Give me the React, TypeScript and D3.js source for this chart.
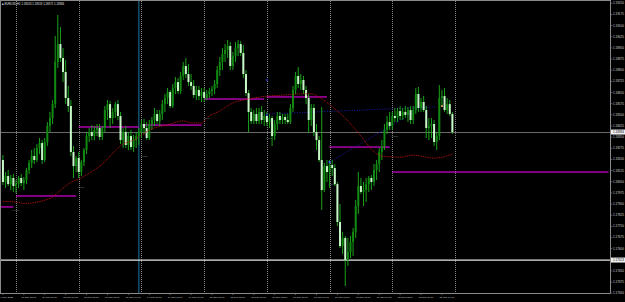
import React from 'react';
import * as d3 from 'd3';

// ---------- DATA (EURUSD H1, 9-18 Sep 2020), [open, high, low, close] ----------
const sep09 = [
  [1.18196, 1.18229, 1.18028, 1.18048],
  [1.18048, 1.18115, 1.18008, 1.18088],
  [1.18088, 1.18129, 1.18021, 1.18034],
  [1.18034, 1.18095, 1.17994, 1.18075],
  [1.18075, 1.18102, 1.17981, 1.18021],
];
const sep10 = [
  [1.18021, 1.18061, 1.17974, 1.18034],
  [1.18034, 1.18088, 1.18008, 1.18075],
  [1.18075, 1.18102, 1.18021, 1.18041],
  [1.18041, 1.18082, 1.17994, 1.18061],
  [1.18061, 1.18142, 1.18034, 1.18129],
  [1.18129, 1.18196, 1.18102, 1.18176],
  [1.18176, 1.18263, 1.18142, 1.18223],
  [1.18223, 1.18277, 1.18169, 1.18196],
  [1.18196, 1.18303, 1.18182, 1.18277],
  [1.18277, 1.18344, 1.18236, 1.18310],
  [1.18310, 1.18330, 1.18169, 1.18196],
  [1.18196, 1.18344, 1.18182, 1.18317],
  [1.18317, 1.18451, 1.18290, 1.18425],
  [1.18425, 1.18519, 1.18384, 1.18478],
  [1.18478, 1.18599, 1.18438, 1.18572],
  [1.18572, 1.19030, 1.18546, 1.18855],
  [1.18855, 1.19171, 1.18815, 1.18976],
  [1.18976, 1.19090, 1.18855, 1.18882],
  [1.18882, 1.18949, 1.18720, 1.18788],
  [1.18788, 1.18868, 1.18572, 1.18613],
  [1.18613, 1.18694, 1.18519, 1.18559],
  [1.18559, 1.18599, 1.18223, 1.18250],
  [1.18250, 1.18290, 1.18075, 1.18155],
  [1.18155, 1.18223, 1.18115, 1.18209],
];
const sep11 = [
  [1.18209, 1.18250, 1.18075, 1.18115],
  [1.18115, 1.18196, 1.18088, 1.18182],
  [1.18182, 1.18277, 1.18155, 1.18263],
  [1.18263, 1.18384, 1.18236, 1.18357],
  [1.18357, 1.18411, 1.18317, 1.18384],
  [1.18384, 1.18431, 1.18330, 1.18357],
  [1.18357, 1.18425, 1.18330, 1.18398],
  [1.18398, 1.18438, 1.18357, 1.18411],
  [1.18411, 1.18438, 1.18330, 1.18351],
  [1.18351, 1.18425, 1.18330, 1.18411],
  [1.18411, 1.18559, 1.18384, 1.18532],
  [1.18532, 1.18599, 1.18465, 1.18572],
  [1.18572, 1.18593, 1.18411, 1.18478],
  [1.18478, 1.18546, 1.18438, 1.18519],
  [1.18519, 1.18586, 1.18478, 1.18572],
  [1.18572, 1.18599, 1.18465, 1.18492],
  [1.18492, 1.18519, 1.18303, 1.18330],
  [1.18330, 1.18411, 1.18277, 1.18384],
  [1.18384, 1.18425, 1.18277, 1.18297],
  [1.18297, 1.18384, 1.18263, 1.18357],
  [1.18357, 1.18398, 1.18263, 1.18283],
  [1.18283, 1.18364, 1.18250, 1.18330],
  [1.18330, 1.18384, 1.18277, 1.18357],
  [1.18357, 1.18411, 1.18297, 1.18384],
];
const sep14 = [
  [1.18384, 1.18465, 1.18344, 1.18438],
  [1.18438, 1.18472, 1.18371, 1.18411],
  [1.18411, 1.18451, 1.18330, 1.18344],
  [1.18344, 1.18465, 1.18330, 1.18438],
  [1.18438, 1.18485, 1.18398, 1.18465],
  [1.18465, 1.18546, 1.18425, 1.18505],
  [1.18505, 1.18532, 1.18438, 1.18458],
  [1.18458, 1.18532, 1.18425, 1.18505],
  [1.18505, 1.18599, 1.18465, 1.18572],
  [1.18572, 1.18640, 1.18519, 1.18613],
  [1.18613, 1.18680, 1.18572, 1.18653],
  [1.18653, 1.18667, 1.18546, 1.18559],
  [1.18559, 1.18707, 1.18546, 1.18680],
  [1.18680, 1.18754, 1.18640, 1.18720],
  [1.18720, 1.18747, 1.18640, 1.18660],
  [1.18660, 1.18788, 1.18640, 1.18761],
  [1.18761, 1.18855, 1.18734, 1.18828],
  [1.18828, 1.18882, 1.18747, 1.18774],
  [1.18774, 1.18842, 1.18694, 1.18720],
  [1.18720, 1.18774, 1.18667, 1.18694],
  [1.18694, 1.18734, 1.18613, 1.18633],
  [1.18633, 1.18694, 1.18599, 1.18667],
  [1.18667, 1.18694, 1.18599, 1.18626],
  [1.18626, 1.18680, 1.18586, 1.18653],
];
const sep15 = [
  [1.18653, 1.18680, 1.18586, 1.18613],
  [1.18613, 1.18667, 1.18599, 1.18640],
  [1.18640, 1.18680, 1.18613, 1.18660],
  [1.18660, 1.18694, 1.18626, 1.18673],
  [1.18673, 1.18734, 1.18640, 1.18707],
  [1.18707, 1.18828, 1.18680, 1.18801],
  [1.18801, 1.18889, 1.18761, 1.18855],
  [1.18855, 1.18949, 1.18801, 1.18909],
  [1.18909, 1.18976, 1.18855, 1.18936],
  [1.18936, 1.19003, 1.18882, 1.18963],
  [1.18963, 1.18990, 1.18801, 1.18828],
  [1.18828, 1.18922, 1.18801, 1.18895],
  [1.18895, 1.18990, 1.18855, 1.18949],
  [1.18949, 1.19003, 1.18895, 1.18976],
  [1.18976, 1.18996, 1.18895, 1.18916],
  [1.18916, 1.18969, 1.18747, 1.18774],
  [1.18774, 1.18801, 1.18626, 1.18646],
  [1.18646, 1.18667, 1.18384, 1.18519],
  [1.18519, 1.18546, 1.18438, 1.18458],
  [1.18458, 1.18532, 1.18438, 1.18505],
  [1.18505, 1.18546, 1.18438, 1.18458],
  [1.18458, 1.18546, 1.18438, 1.18519],
  [1.18519, 1.18559, 1.18438, 1.18465],
  [1.18465, 1.18532, 1.18425, 1.18492],
];
const sep16 = [
  [1.18492, 1.18519, 1.18425, 1.18451],
  [1.18451, 1.18505, 1.18411, 1.18478],
  [1.18478, 1.18492, 1.18290, 1.18357],
  [1.18357, 1.18465, 1.18330, 1.18438],
  [1.18438, 1.18519, 1.18398, 1.18492],
  [1.18492, 1.18519, 1.18438, 1.18465],
  [1.18465, 1.18505, 1.18438, 1.18485],
  [1.18485, 1.18505, 1.18438, 1.18465],
  [1.18465, 1.18505, 1.18438, 1.18451],
  [1.18451, 1.18572, 1.18438, 1.18546],
  [1.18546, 1.18694, 1.18519, 1.18667],
  [1.18667, 1.18788, 1.18640, 1.18761],
  [1.18761, 1.18821, 1.18680, 1.18707],
  [1.18707, 1.18774, 1.18667, 1.18734],
  [1.18734, 1.18761, 1.18640, 1.18667],
  [1.18667, 1.18694, 1.18572, 1.18613],
  [1.18613, 1.18640, 1.18377, 1.18465],
  [1.18465, 1.18572, 1.18425, 1.18546],
  [1.18546, 1.18572, 1.18357, 1.18384],
  [1.18384, 1.18438, 1.18263, 1.18330],
  [1.18330, 1.18357, 1.18182, 1.18196],
  [1.18196, 1.18552, 1.17860, 1.17994],
  [1.17994, 1.18176, 1.17981, 1.18155],
  [1.18155, 1.18196, 1.18048, 1.18115],
];
const sep17 = [
  [1.18115, 1.18196, 1.18008, 1.18162],
  [1.18162, 1.18196, 1.18088, 1.18142],
  [1.18142, 1.18169, 1.18021, 1.18034],
  [1.18034, 1.18048, 1.17752, 1.17779],
  [1.17779, 1.17900, 1.17604, 1.17617],
  [1.17617, 1.17712, 1.17564, 1.17671],
  [1.17671, 1.17685, 1.17348, 1.17523],
  [1.17523, 1.17671, 1.17483, 1.17577],
  [1.17577, 1.17685, 1.17537, 1.17644],
  [1.17644, 1.17739, 1.17550, 1.17712],
  [1.17712, 1.17927, 1.17671, 1.17886],
  [1.17886, 1.18115, 1.17833, 1.18021],
  [1.18021, 1.18075, 1.17967, 1.17981],
  [1.17981, 1.18048, 1.17886, 1.17994],
  [1.17994, 1.18075, 1.17913, 1.18034],
  [1.18034, 1.18088, 1.17981, 1.18075],
  [1.18075, 1.18095, 1.17994, 1.18048],
  [1.18048, 1.18169, 1.18021, 1.18129],
  [1.18129, 1.18196, 1.18061, 1.18169],
  [1.18169, 1.18277, 1.18115, 1.18250],
  [1.18250, 1.18330, 1.18196, 1.18290],
  [1.18290, 1.18438, 1.18263, 1.18398],
  [1.18398, 1.18492, 1.18371, 1.18451],
  [1.18451, 1.18519, 1.18398, 1.18425],
];
const sep18 = [
  [1.18425, 1.18519, 1.18398, 1.18492],
  [1.18492, 1.18546, 1.18451, 1.18478],
  [1.18478, 1.18546, 1.18451, 1.18525],
  [1.18525, 1.18559, 1.18465, 1.18492],
  [1.18492, 1.18546, 1.18465, 1.18519],
  [1.18519, 1.18559, 1.18478, 1.18499],
  [1.18499, 1.18552, 1.18451, 1.18532],
  [1.18532, 1.18559, 1.18438, 1.18465],
  [1.18465, 1.18559, 1.18438, 1.18532],
  [1.18532, 1.18680, 1.18505, 1.18640],
  [1.18640, 1.18687, 1.18519, 1.18546],
  [1.18546, 1.18613, 1.18519, 1.18586],
  [1.18586, 1.18626, 1.18519, 1.18532],
  [1.18532, 1.18559, 1.18344, 1.18411],
  [1.18411, 1.18478, 1.18330, 1.18425],
  [1.18425, 1.18478, 1.18344, 1.18438],
  [1.18438, 1.18465, 1.18290, 1.18317],
  [1.18317, 1.18384, 1.18263, 1.18357],
  [1.18357, 1.18700, 1.18330, 1.18613],
  [1.18613, 1.18667, 1.18559, 1.18626],
  [1.18626, 1.18680, 1.18519, 1.18532],
  [1.18532, 1.18613, 1.18505, 1.18572],
  [1.18572, 1.18599, 1.18492, 1.18505],
  [1.18505, 1.18519, 1.18371, 1.18384],
];

// moving average (red dotted), read at bar indices
const maIdx = [0, 6, 8, 18, 23, 26, 29, 33, 38, 44, 46, 50, 52, 57, 63, 69, 72, 76, 78, 83, 88, 94, 99, 109, 114, 118, 122, 127, 132, 137, 141, 145, 152, 157, 165, 168, 172];
const maVal = [1.17918, 1.17911, 1.17904, 1.17938, 1.18006, 1.18046, 1.18067, 1.18107, 1.18168, 1.18276, 1.18303, 1.18330, 1.18351, 1.18405, 1.18432, 1.18459, 1.18445, 1.18445, 1.18479, 1.18526, 1.18580, 1.18607, 1.18621, 1.18635, 1.18641, 1.18641, 1.18607, 1.18540, 1.18459, 1.18357, 1.18270, 1.18222, 1.18215, 1.18229, 1.18209, 1.18215, 1.18236];

// daily horizontal levels (magenta): [startIdx, endIdx, price]; endIdx -1 = to the right edge
const levelStart = [-1, 5, 29, 53, 77, 101, 125, 149];
const levelEnd = [4, 28, 52, 76, 100, 124, 148, -1];
const levelPrice = [1.17880, 1.17954, 1.18418, 1.18431, 1.18606, 1.18620, 1.18283, 1.18115];

// small level tags
const tagIdx = [4, 29, 53, 77, 101, 125, 149];
const tagPrice = [1.17860, 1.18014, 1.18223, 1.18478, 1.18344, 1.18034, 1.18357];

// blue dotted trend lines [idx1, p1, idx2, p2]
const trendA = [101, 1.18505, 166, 1.18553];
const trendB = [125, 1.18182, 160, 1.18546];

// markers
const markerIdx = [125, 101, 101, 168];
const markerPrice = [1.18182, 1.18499, 1.18734, 1.18559];
const markerColor = ['#3a5cff', '#2a3aa0', '#1a2a90', '#c8944a'];

const daySeparators = [5, 29, 53, 77, 101, 125, 149, 173];
const weekLineIdx = 52;
const whiteLevel = 1.17523;

const priceTicks = [1.19250, 1.19175, 1.19100, 1.19025, 1.18950, 1.18875, 1.18800, 1.18725, 1.18650, 1.18575, 1.18500, 1.18425, 1.18350, 1.18275, 1.18200, 1.18125, 1.18050, 1.17975, 1.17900, 1.17825, 1.17750, 1.17675, 1.17600, 1.17525, 1.17450, 1.17375, 1.17300];

const timeLabelIdx = [0, 8, 16, 24, 32, 40, 48, 56, 64, 72, 80, 88, 96, 104, 112, 120, 128, 136, 144, 152, 160, 168];
const timeLabels = ['9 Sep 2020', '10 Sep 03:00', '10 Sep 11:00', '10 Sep 19:00', '11 Sep 03:00', '11 Sep 11:00', '11 Sep 19:00', '14 Sep 03:00', '14 Sep 11:00', '14 Sep 19:00', '15 Sep 03:00', '15 Sep 11:00', '15 Sep 19:00', '16 Sep 03:00', '16 Sep 11:00', '16 Sep 19:00', '17 Sep 03:00', '17 Sep 11:00', '17 Sep 19:00', '18 Sep 03:00', '18 Sep 11:00', '18 Sep 19:00'];

const candles = [...sep09, ...sep10, ...sep11, ...sep14, ...sep15, ...sep16, ...sep17, ...sep18];

// ---------- LAYOUT ----------
const W = 625;
const H = 302;
const axisX = 610.5;
const bottomY = 293.5;
const FONT = 'Liberation Sans, Arial, sans-serif';

const x = d3.scaleLinear().domain([5, 173]).range([16, 455]);
const y = d3.scaleLinear().domain([1.173, 1.1925]).range([293.2, 3.3]);

const fmt = (v: number) => v.toFixed(5);

export default function App() {
  const last = candles[candles.length - 1];
  const lastClose = last[3];

  const maLine = d3
    .line<number>()
    .x((d, i) => x(maIdx[i]))
    .y((d) => y(d))
    .curve(d3.curveMonotoneX)(maVal);

  return (
    <svg
      width={W}
      height={H}
      style={{ position: 'absolute', left: 0, top: 0, display: 'block', background: '#000' }}
    >
      <rect x={0} y={0} width={W} height={H} fill="#000" />

      {/* day separators */}
      {daySeparators.map((d, i) => (
        <line
          key={'sep' + i}
          x1={Math.round(x(d)) + 0.5}
          x2={Math.round(x(d)) + 0.5}
          y1={1}
          y2={bottomY}
          stroke="#858585"
          strokeWidth={1}
          strokeDasharray="1 1"
        />
      ))}
      {/* week line */}
      <line
        x1={x(weekLineIdx)}
        x2={x(weekLineIdx)}
        y1={1}
        y2={bottomY}
        stroke="#135474"
        strokeWidth={1.4}
      />

      {/* white level */}
      <line x1={0} x2={axisX} y1={y(whiteLevel)} y2={y(whiteLevel)} stroke="#e6e6e6" strokeWidth={1.2} />
      {/* current price line */}
      <line
        x1={0}
        x2={axisX}
        y1={Math.round(y(lastClose)) + 0.5}
        y2={Math.round(y(lastClose)) + 0.5}
        stroke="#6a6a6a"
        strokeWidth={1}
      />

      {/* magenta levels */}
      {levelPrice.map((p, i) => (
        <line
          key={'lvl' + i}
          x1={x(levelStart[i])}
          x2={levelEnd[i] < 0 ? axisX - 2 : x(levelEnd[i])}
          y1={y(p)}
          y2={y(p)}
          stroke="#ff00ff"
          strokeWidth={1}
        />
      ))}

      {/* level tags */}
      {tagIdx.map((t, i) => (
        <text
          key={'tag' + i}
          x={x(t) - 1}
          y={y(tagPrice[i]) + 1}
          fontSize={2.2}
          fill="#5f8090"
          fontFamily={FONT}
        >
          {tagPrice[i].toFixed(4)}
        </text>
      ))}

      {/* blue dotted trend lines */}
      {[trendA, trendB].map((t, i) => (
        <line
          key={'tr' + i}
          x1={x(t[0])}
          y1={y(t[1])}
          x2={x(t[2])}
          y2={y(t[3])}
          stroke="#1c1cb0"
          strokeWidth={1}
          strokeDasharray="1 1.5"
        />
      ))}

      {/* candles */}
      {candles.map((c, i) => {
        const [o, h, l, cl] = c;
        const cx = x(i);
        const bull = cl >= o;
        const top = y(Math.max(o, cl));
        const bot = y(Math.min(o, cl));
        return (
          <g key={'c' + i}>
            <line x1={cx} x2={cx} y1={y(h)} y2={y(l)} stroke="#1cb41c" strokeWidth={0.9} />
            <rect
              x={cx - 1}
              y={top}
              width={2}
              height={Math.max(0.8, bot - top)}
              fill={bull ? '#108a10' : '#c8f8c8'}
            />
          </g>
        );
      })}

      {/* moving average */}
      <path d={maLine || ''} fill="none" stroke="#b01010" strokeWidth={1} strokeDasharray="1 0.8" />

      {/* markers */}
      {markerIdx.map((m, i) => (
        <rect
          key={'mk' + i}
          x={x(m) - 1}
          y={y(markerPrice[i]) - 1}
          width={2}
          height={2}
          fill={markerColor[i]}
        />
      ))}

      {/* frame */}
      <line x1={0} x2={axisX} y1={0.5} y2={0.5} stroke="#8a8a8a" strokeWidth={1} />
      <line x1={0.5} x2={0.5} y1={0} y2={bottomY} stroke="#8a8a8a" strokeWidth={1} />
      <line x1={axisX} x2={axisX} y1={0} y2={bottomY} stroke="#8a8a8a" strokeWidth={1} />
      <line x1={0} x2={axisX} y1={bottomY} y2={bottomY} stroke="#8a8a8a" strokeWidth={1} />

      {/* price axis */}
      {priceTicks.map((t, i) => (
        <g key={'pt' + i}>
          <line x1={axisX} x2={axisX + 2} y1={y(t)} y2={y(t)} stroke="#8a8a8a" strokeWidth={0.6} />
          <text x={613} y={y(t) + 1} fontSize={3} fill="#d8d8d8" fontFamily={FONT}>
            {fmt(t)}
          </text>
        </g>
      ))}

      {/* price boxes */}
      <rect x={axisX + 0.5} y={y(lastClose) - 2.5} width={14} height={5} fill="#f0f0f0" />
      <text x={613} y={y(lastClose) + 1} fontSize={3} fill="#000" fontFamily={FONT}>
        {fmt(lastClose)}
      </text>
      <rect x={axisX + 0.5} y={y(whiteLevel) - 2.5} width={14} height={5} fill="#f0f0f0" />
      <text x={613} y={y(whiteLevel) + 1} fontSize={3} fill="#000" fontFamily={FONT}>
        {fmt(whiteLevel)}
      </text>

      {/* time axis */}
      {timeLabelIdx.map((t, i) => (
        <g key={'tl' + i}>
          <line x1={x(t)} x2={x(t)} y1={bottomY} y2={bottomY + 1.5} stroke="#8a8a8a" strokeWidth={0.6} />
          <text x={x(t) - 2.5} y={297.8} fontSize={2.5} fill="#d8d8d8" fontFamily={FONT}>
            {timeLabels[i]}
          </text>
        </g>
      ))}

      {/* title */}
      <text x={2} y={4.6} fontSize={2.8} fill="#e0e0e0" fontFamily={FONT}>
        {'■ EURUSD,H1  ' + last.map(fmt).join(' ')}
      </text>
    </svg>
  );
}
